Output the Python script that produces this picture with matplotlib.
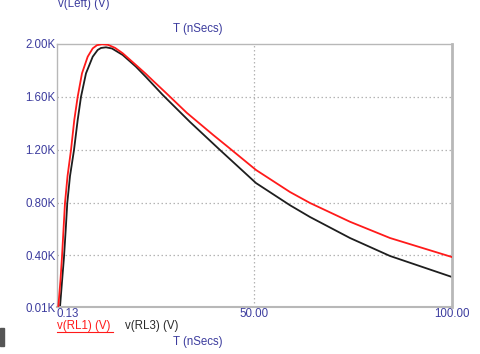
import matplotlib
matplotlib.use("Agg")
import matplotlib.pyplot as plt
from matplotlib.patches import Rectangle

plt.rcParams['font.family'] = ['Liberation Sans', 'DejaVu Sans']

# Data (time in ns, voltage in kV)
t_rl1 = [0.46, 1.01, 1.39, 1.77, 2.15, 2.79, 3.67, 4.50, 5.36, 6.45, 7.89, 9.16,
         10.24, 11.51, 13.02, 14.79, 16.74, 20.10, 22.63, 24.48, 27.86, 32.92,
         39.65, 43.36, 50.44, 59.04, 64.10, 74.21, 84.33, 100.0]
v_rl1 = [0.01, 0.214, 0.388, 0.593, 0.797, 1.000, 1.198, 1.425, 1.601, 1.778, 1.904, 1.967,
         1.991, 1.998, 1.994, 1.971, 1.930, 1.841, 1.773, 1.720, 1.625, 1.480,
         1.311, 1.221, 1.047, 0.880, 0.797, 0.655, 0.532, 0.388]

t_rl3 = [0.89, 1.39, 1.90, 2.33, 2.73, 3.42, 4.43, 5.36, 6.20, 7.46, 9.16, 10.42,
         11.25, 12.52, 14.04, 16.74, 20.10, 22.63, 26.85, 33.76, 41.34, 50.44,
         59.04, 64.10, 74.21, 84.33, 100.0]
v_rl3 = [0.01, 0.199, 0.388, 0.593, 0.797, 1.001, 1.198, 1.425, 1.601, 1.778, 1.904, 1.955,
         1.970, 1.975, 1.966, 1.917, 1.828, 1.750, 1.615, 1.410, 1.198, 0.948,
         0.780, 0.691, 0.532, 0.396, 0.237]

y_ticks = [0.01, 0.40, 0.80, 1.20, 1.60, 2.00]
y_labels = ['0.01K', '0.40K', '0.80K', '1.20K', '1.60K', '2.00K']
x_ticks = [0.13, 50.0, 100.0]
x_labels = ['0.13', '50.00', '100.00']

W, H = 481, 354
fig = plt.figure(figsize=(W / 100, H / 100), dpi=100)
L, R, T, B = 57, 452, 44, 307
ax = fig.add_axes([L / W, 1 - B / H, (R - L) / W, (B - T) / H])

blue = '#3c3c9e'
fs = 8.3
ax.plot(t_rl1, v_rl1, color='#ff1a1a', lw=1.3, zorder=3, solid_joinstyle='round')
ax.plot(t_rl3, v_rl3, color='#1e1e1e', lw=1.3, zorder=2, solid_joinstyle='round')

ax.set_xlim(0.13, 100.0)
ax.set_ylim(0.01, 2.00)

for y in y_ticks[1:-1]:
    ax.axhline(y, color='#b4b4b4', lw=0.9, ls=(0, (1.2, 2.0)), zorder=1)
ax.axvline(50.0, color='#b4b4b4', lw=0.9, ls=(0, (1.2, 2.0)), zorder=1)

ax.set_yticks(y_ticks)
ax.set_yticklabels(y_labels)
ax.set_xticks(x_ticks)
ax.set_xticklabels(x_labels)
ax.tick_params(axis='both', length=0, labelsize=fs, colors=blue, pad=1)
xl = ax.get_xticklabels()
xl[0].set_horizontalalignment('left')

for s in ax.spines.values():
    s.set_color('#b8b8b8')
    s.set_linewidth(1.0)
ax.spines['right'].set_linewidth(2.0)
ax.spines['bottom'].set_linewidth(1.5)

def fx(px):
    return px / W

def fy(py):
    return 1 - py / H

fig.text(fx(58), fy(4), 'v(Left) (V)', color=blue, fontsize=fs, ha='left', va='center')
fig.text(fx(173), fy(29), 'T (nSecs)', color=blue, fontsize=fs, ha='left', va='center')
fig.text(fx(57), fy(326), 'v(RL1) (V)', color='#ff1a1a', fontsize=fs, ha='left', va='center')
fig.add_artist(plt.Line2D([fx(57), fx(113)], [fy(331.5), fy(331.5)], color='#ff1a1a', lw=0.8))
fig.text(fx(125), fy(326), 'v(RL3) (V)', color='#2a2a2a', fontsize=fs, ha='left', va='center')
fig.text(fx(173), fy(342), 'T (nSecs)', color=blue, fontsize=fs, ha='left', va='center')
fig.add_artist(Rectangle((0, fy(346)), fx(4), 18 / H, color='#555555', transform=fig.transFigure))

fig.savefig('out.png', dpi=100)
